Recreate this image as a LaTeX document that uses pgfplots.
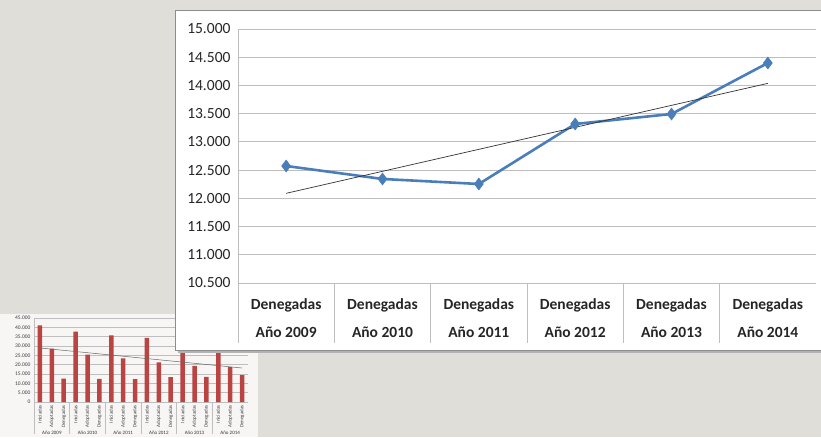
\documentclass[border=0pt]{standalone}
\usepackage{fontspec}
\setmainfont{Carlito}
\usepackage{pgfplots}
\pgfplotsset{compat=1.18}
\definecolor{bg}{RGB}{224,222,216}
\definecolor{xlblue}{RGB}{74,126,187}
\definecolor{xlred}{RGB}{185,68,66}
\definecolor{gridc}{RGB}{190,190,190}
\begin{document}
\begin{tikzpicture}[x=1pt,y=1pt]
\useasboundingbox (0pt,0pt) rectangle (821pt,437pt);
\fill[bg] (0pt,0pt) rectangle (821pt,437pt);
% ---------- inset chart (behind) ----------
\fill[white,opacity=0.75] (0pt,0pt) rectangle (258pt,123pt);
\begin{axis}[at={(34pt,119pt)}, anchor=north west, scale only axis,
  width=214pt, height=84pt,
  xmin=0.5, xmax=18.5, ymin=0, ymax=45000,
  ytick={0,5000,...,45000}, scaled y ticks=false,
  ymajorgrids, grid style={gridc, line width=0.4pt},
  axis lines*=left, axis line style={-, gridc},
  /pgf/number format/.cd, fixed, 1000 sep={.}, assume math mode=true, /pgfplots/.cd,
  yticklabel style={font=\fontsize{5.5}{6}\selectfont, text=black!75},
  ytick style={draw=none},
  xtick={0.5,3.5,...,15.5}, xticklabels={},
  xtick align=outside, major tick length=32pt,
  xtick style={gridc, line width=0.4pt},
  extra x ticks={1,...,18},
  extra x tick labels={Iniciadas,Adoptadas,Denegadas,Iniciadas,Adoptadas,Denegadas,Iniciadas,Adoptadas,Denegadas,Iniciadas,Adoptadas,Denegadas,Iniciadas,Adoptadas,Denegadas,Iniciadas,Adoptadas,Denegadas},
  extra x tick style={major tick length=0pt, xticklabel style={rotate=90, anchor=east, font=\fontsize{5}{6}\selectfont, text=black!75}},
  clip=false]
\addplot[ybar, bar width=4.5pt, fill=xlred, draw=none] coordinates {
 (1,41070) (2,28570) (3,12573)
 (4,37680) (5,25360) (6,12343)
 (7,35700) (8,23390) (9,12254)
 (10,34290) (11,21250) (12,13317)
 (13,33000) (14,19290) (15,13494)
 (16,32500) (17,18750) (18,14398)};
\addplot[black!60, line width=0.5pt] coordinates {(1,28930) (18,18210)};
\foreach \g/\yr in {2/2009,5/2010,8/2011,11/2012,14/2013,17/2014}{
  \edef\tmp{\noexpand\node[font=\noexpand\fontsize{5}{6}\noexpand\selectfont, text=black!80, anchor=south, inner sep=1pt] at (axis cs:\g,0) [yshift=-34pt] {Año \yr};}\tmp
}
\end{axis}
% ---------- main chart box ----------
\fill[black!30] (178pt,84pt) rectangle (821pt,88pt);
\fill[white] (175pt,87pt) rectangle (821pt,427pt);
\draw[black!45, line width=0.8pt] (175pt,87pt) rectangle (823pt,427pt);
\begin{axis}[at={(238pt,408pt)}, anchor=north west, scale only axis,
  width=578pt, height=254pt,
  xmin=0.5, xmax=6.5, ymin=10500, ymax=15000,
  ytick={10500,11000,...,15000}, scaled y ticks=false,
  ymajorgrids, grid style={gridc, line width=0.9pt},
  axis lines*=left, axis line style={-, gridc, line width=0.9pt},
  /pgf/number format/.cd, fixed, 1000 sep={.}, assume math mode=true, /pgfplots/.cd,
  yticklabel style={font=\fontsize{15.5}{18}\selectfont, text=black!85, xshift=-4pt},
  ytick style={draw=none},
  xtick={0.5,1.5,...,5.5}, xticklabels={},
  xtick align=outside, major tick length=60pt,
  xtick style={gridc, line width=0.9pt},
  extra x ticks={1,...,6},
  extra x tick labels={{Denegadas\\[10pt]Año 2009},{Denegadas\\[10pt]Año 2010},{Denegadas\\[10pt]Año 2011},{Denegadas\\[10pt]Año 2012},{Denegadas\\[10pt]Año 2013},{Denegadas\\[10pt]Año 2014}},
  extra x tick style={major tick length=0pt, xticklabel style={align=center, font=\bfseries\fontsize{15.5}{18}\selectfont, text=black!85, yshift=-12pt}},
  clip=false]
\addplot[xlblue, line width=2.6pt, mark=diamond*, mark size=6pt, mark options={fill=xlblue, line width=0.5pt}] coordinates {
 (1,12573) (2,12343) (3,12254) (4,13317) (5,13494) (6,14398)};
\addplot[black!80, line width=0.7pt] coordinates {(1,12089) (6,14037)};
\end{axis}
\end{tikzpicture}
\end{document}
